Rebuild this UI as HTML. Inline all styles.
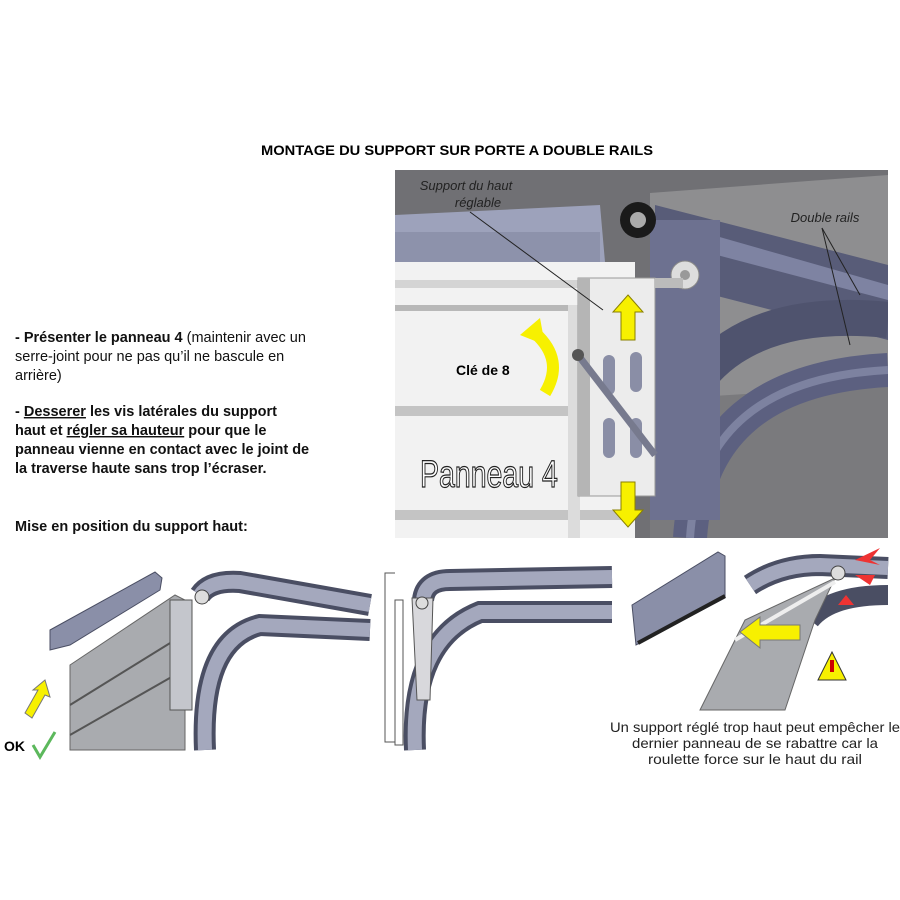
<!DOCTYPE html>
<html><head><meta charset="utf-8"><style>
html,body{margin:0;padding:0;background:#fff}
svg{display:block}
text{font-family:"Liberation Sans",sans-serif}
</style></head><body>
<svg width="900" height="900" viewBox="0 0 900 900" xmlns="http://www.w3.org/2000/svg">
<text x="457" y="155" font-size="14" font-weight="bold" text-anchor="middle" textLength="392" lengthAdjust="spacingAndGlyphs">MONTAGE DU SUPPORT SUR PORTE A DOUBLE RAILS</text>

<g font-size="14.5" fill="#111">
<text x="15" y="342"><tspan font-weight="bold">- Présenter  le panneau  4</tspan> (maintenir avec un</text>
<text x="15" y="361">serre-joint pour ne pas qu’il ne bascule en</text>
<text x="15" y="380">arrière)</text>
<text x="15" y="416" font-weight="bold">- <tspan text-decoration="underline">Desserer</tspan>  les vis latérales du support</text>
<text x="15" y="435" font-weight="bold">haut et <tspan text-decoration="underline">régler sa hauteur</tspan> pour que le</text>
<text x="15" y="454" font-weight="bold">panneau  vienne en contact avec le joint de</text>
<text x="15" y="473" font-weight="bold">la traverse  haute sans trop l’écraser.</text>
<text x="15" y="531" font-weight="bold">Mise en position du support haut:</text>
</g>

<defs><clipPath id="c1"><rect x="395" y="170" width="493" height="368"/></clipPath></defs>
<g clip-path="url(#c1)">
<rect x="395" y="170" width="493" height="368" fill="#707074"/>
<polygon points="650,193 888,175 888,538 650,538" fill="#8e8e90"/>
<polygon points="650,400 888,385 888,538 650,538" fill="#7a7a7d"/>
<polygon points="395,215 600,205 605,262 395,265" fill="#9da2bb"/>
<rect x="395" y="232" width="205" height="30" fill="#8d92ab"/>
<polygon points="655,205 888,265 888,340 655,280" fill="#585c78"/>
<polygon points="660,220 888,285 888,300 660,240" fill="#7e83a2"/>
<path d="M660 470 Q690 300 888 320" stroke="#4f536e" stroke-width="36" fill="none"/>
<path d="M690 538 Q700 380 888 370" stroke="#5c6080" stroke-width="34" fill="none"/>
<path d="M690 538 Q700 380 888 370" stroke="#7d82a0" stroke-width="8" fill="none"/>
<rect x="650" y="220" width="70" height="300" fill="#6d7190"/>
<rect x="395" y="262" width="240" height="276" fill="#f2f2f2"/>
<rect x="395" y="280" width="240" height="8" fill="#d4d4d4"/>
<rect x="395" y="305" width="240" height="6" fill="#b8b8b8"/>
<rect x="395" y="406" width="240" height="10" fill="#c4c4c4"/>
<rect x="395" y="510" width="240" height="10" fill="#c4c4c4"/>
<rect x="568" y="305" width="12" height="233" fill="#dcdcdc"/>
<rect x="578" y="278" width="77" height="218" fill="#ececec" stroke="#999"/>
<rect x="578" y="278" width="12" height="218" fill="#b5b5b5"/>
<rect x="603" y="355" width="12" height="40" rx="6" fill="#8a8ea6"/>
<rect x="630" y="352" width="12" height="40" rx="6" fill="#8a8ea6"/>
<rect x="603" y="418" width="12" height="40" rx="6" fill="#8a8ea6"/>
<rect x="630" y="418" width="12" height="40" rx="6" fill="#8a8ea6"/>
<line x1="578" y1="355" x2="655" y2="455" stroke="#777a8e" stroke-width="7"/>
<circle cx="578" cy="355" r="6" fill="#555"/>
<circle cx="638" cy="220" r="18" fill="#1a1a1a"/><circle cx="638" cy="220" r="8" fill="#aaa"/>
<circle cx="685" cy="275" r="14" fill="#ddd" stroke="#888"/><circle cx="685" cy="275" r="5" fill="#999"/>
<rect x="655" y="278" width="28" height="10" fill="#bbb"/>
<polygon points="628,295 643,312 635,312 635,340 621,340 621,312 613,312" fill="#f7f000" stroke="#8a8000"/>
<polygon points="628,527 643,510 635,510 635,482 621,482 621,510 613,510" fill="#f7f000" stroke="#8a8000"/>
<path d="M545 393 Q565 360 535 333" stroke="#f7f000" stroke-width="12" fill="none"/>
<polygon points="520,335 540,318 545,345" fill="#f7f000"/>
<text x="456" y="375" font-size="14" font-weight="bold">Clé de 8</text>
<text x="560" y="487" font-size="38" fill="#fff" stroke="#222" stroke-width="1.2" transform="scale(0.75,1)">Panneau 4</text>
<text x="466" y="190" font-size="13" font-style="italic" text-anchor="middle" fill="#222">Support du haut</text>
<text x="478" y="207" font-size="13" font-style="italic" text-anchor="middle" fill="#222">réglable</text>
<line x1="470" y1="212" x2="603" y2="310" stroke="#222"/>
<text x="825" y="222" font-size="13" font-style="italic" text-anchor="middle" fill="#222">Double rails</text>
<line x1="822" y1="228" x2="860" y2="295" stroke="#222"/>
<line x1="822" y1="228" x2="850" y2="345" stroke="#222"/>
</g>

<g>
<polygon points="50,630 155,572 162,578 160,590 70,645 50,650" fill="#8a8fa8" stroke="#4a4e63"/>
<path d="M200 595 Q210 580 240 582 L370 605" stroke="#4a4e63" stroke-width="22" fill="none"/>
<path d="M200 595 Q210 580 240 582 L370 605" stroke="#a4a8bd" stroke-width="14" fill="none"/>
<path d="M205 750 Q200 640 260 625 L370 630" stroke="#4a4e63" stroke-width="22" fill="none"/>
<path d="M205 750 Q200 640 260 625 L370 630" stroke="#a4a8bd" stroke-width="14" fill="none"/>
<polygon points="70,665 175,595 185,600 185,750 70,750" fill="#a9abaf" stroke="#666"/>
<line x1="70" y1="705" x2="175" y2="640" stroke="#555" stroke-width="2"/>
<line x1="70" y1="735" x2="175" y2="675" stroke="#555" stroke-width="2"/>
<rect x="170" y="600" width="22" height="110" fill="#c4c6cc" stroke="#555"/>
<circle cx="202" cy="597" r="7" fill="#ddd" stroke="#444"/>
<polygon points="25,713 38,690 33,690 45,680 50,697 45,695 32,718" fill="#f7f000" stroke="#777"/>
<text x="4" y="751" font-size="14" font-weight="bold">OK</text>
<polyline points="33,745 40,757 55,732" stroke="#5cb85c" stroke-width="3" fill="none"/>
</g>

<g>
<polyline points="395,573 385,573 385,742 395,742" stroke="#555" fill="none"/>
<path d="M423 600 Q425 580 450 580 L612 577" stroke="#4a4e63" stroke-width="22" fill="none"/>
<path d="M423 600 Q425 580 450 580 L612 577" stroke="#a4a8bd" stroke-width="14" fill="none"/>
<path d="M415 750 Q410 640 480 612 L612 612" stroke="#4a4e63" stroke-width="22" fill="none"/>
<path d="M415 750 Q410 640 480 612 L612 612" stroke="#a4a8bd" stroke-width="14" fill="none"/>
<rect x="395" y="600" width="8" height="145" fill="#fff" stroke="#555"/>
<polygon points="412,598 433,598 430,700 417,700" fill="#d8d8dc" stroke="#555"/>
<circle cx="422" cy="603" r="6" fill="#ddd" stroke="#444"/>
</g>

<g>
<polygon points="632,605 718,552 725,556 725,598 636,645" fill="#8a8fa8" stroke="#4a4e63"/>
<line x1="638" y1="643" x2="725" y2="596" stroke="#222" stroke-width="4"/>
<path d="M750 585 Q780 565 820 565 L888 568" stroke="#4a4e63" stroke-width="22" fill="none"/>
<path d="M750 585 Q780 565 820 565 L888 568" stroke="#a4a8bd" stroke-width="14" fill="none"/>
<path d="M810 620 Q830 595 888 595" stroke="#4a4e63" stroke-width="20" fill="none"/>
<polygon points="700,710 745,620 835,578 815,620 785,710" fill="#a9abaf" stroke="#666"/>
<line x1="735" y1="640" x2="835" y2="582" stroke="#eee" stroke-width="4"/>
<circle cx="838" cy="573" r="7" fill="#ddd" stroke="#444"/>
<polygon points="740,632 760,617 760,625 800,625 800,640 760,640 760,648" fill="#f7f000" stroke="#777"/>
<polygon points="818,680 832,652 846,680" fill="#f7f000" stroke="#333"/>
<rect x="830" y="660" width="4" height="12" fill="#c00"/>
<polygon points="838,605 846,595 854,605" fill="#e33"/>
<polygon points="855,560 880,548 870,560 880,565" fill="#e33"/>
<polygon points="855,575 875,575 870,585" fill="#e33"/>
<g font-size="14" text-anchor="middle" fill="#222">
<text x="755" y="732" textLength="290" lengthAdjust="spacingAndGlyphs">Un support réglé trop haut peut empêcher le</text>
<text x="755" y="748" textLength="246" lengthAdjust="spacingAndGlyphs">dernier panneau de se rabattre car la</text>
<text x="755" y="764" textLength="214" lengthAdjust="spacingAndGlyphs">roulette force sur le haut du rail</text>
</g>
</g>
</svg>
</body></html>
